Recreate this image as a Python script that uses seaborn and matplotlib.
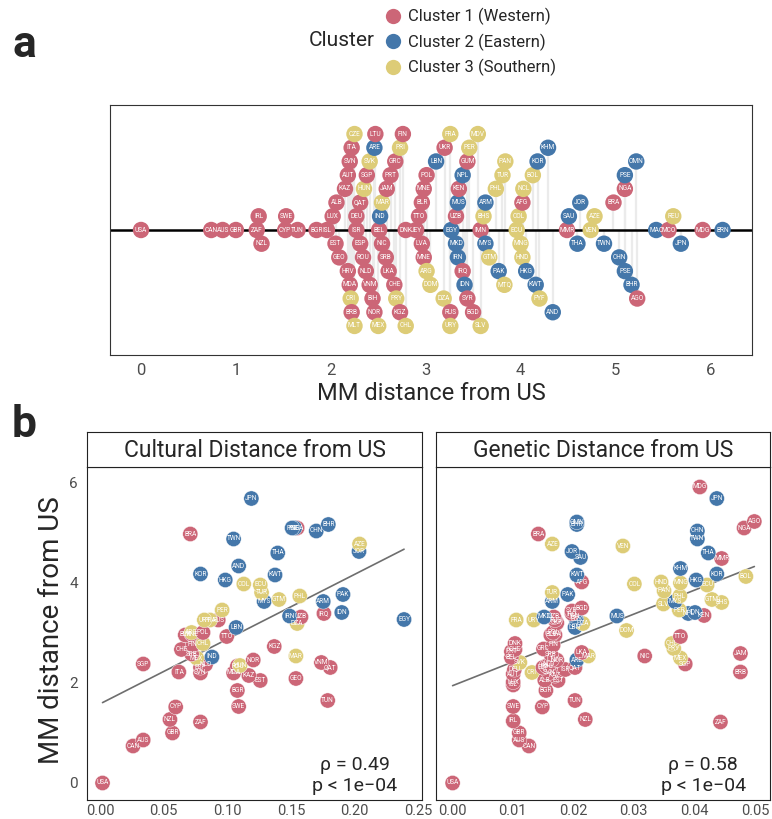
import numpy as np
import pandas as pd
import matplotlib
matplotlib.use("Agg")
import matplotlib.pyplot as plt
import seaborn as sns
from matplotlib.lines import Line2D

# ---------------- data ----------------
codes = ["USA","CAN","AUS","GBR","ZAF","IRL","NZL","CYP","SWE","TUN","BGR",
         "ISL","LUX","EST","ALB","GEO","KAZ","HRV","AUT","MDA","SVN","CRI","ITA","BRB","CZE","MLT",
         "ISR","DEU","ESP","QAT","ROU","HUN","NLD","SGP","VNM","SVK","BIH","ARE","NOR","LTU","MEX",
         "BEL","IND","NIC","MAR","SRB","JAM","LKA","PRT","CHE","GRC","PRY","PRI","KGZ","FIN","CHL",
         "DNK","JEY","TTO","LVA","BLR","MNE","MNE","ARG","POL","DOM","LBN","DZA","UKR","RUS","FRA","URY",
         "EGY","UZB","MKD","MUS","IRN","KEN","IRQ","NPL","IDN","GUM","SYR","PER","BGD","MDV","SLV",
         "IMN","BHS","MYS","ARM","GTM","PHL","PAK","TUR","MTQ","PAN",
         "ECU","COL","MNG","AFG","HND","NCL","HKG","BOL","KWT","KOR","PYF","KHM","AND",
         "MMR","SAU","THA","JOR","VEN","AZE","TWN","BRA","CHN","NGA","PSE","PSE","BHR","OMN","AGO",
         "MAC","MCO","REU","JPN","MDG","BRN"]
clusters = [1,1,1,1,1,1,1,1,1,1,1,
            1,1,1,1,1,1,1,1,1,1,3,1,1,3,3,
            1,1,1,1,1,3,1,1,1,3,1,2,1,1,3,
            1,2,1,3,1,1,1,1,1,1,3,3,1,1,3,
            1,1,1,1,1,1,1,3,1,3,2,3,1,1,3,3,
            2,1,2,2,2,1,1,2,2,1,1,3,1,3,3,
            1,3,2,2,3,3,2,3,3,3,
            3,3,3,1,3,3,2,3,2,2,3,2,2,
            1,2,2,2,3,3,2,1,2,1,2,2,2,2,1,
            2,1,3,2,1,2]
mm_distance = [0.00,0.74,0.86,1.00,1.22,1.24,1.27,1.52,1.53,1.65,1.85,
               1.96,2.02,2.05,2.06,2.09,2.15,2.18,2.18,2.20,2.20,2.21,2.22,2.22,2.25,2.25,
               2.27,2.27,2.31,2.31,2.34,2.35,2.37,2.38,2.41,2.41,2.44,2.46,2.46,2.47,2.50,
               2.51,2.52,2.54,2.54,2.58,2.59,2.61,2.63,2.67,2.68,2.69,2.73,2.73,2.76,2.79,
               2.79,2.90,2.93,2.96,2.96,2.98,2.98,3.01,3.01,3.05,3.11,3.19,3.20,3.26,3.26,3.26,
               3.27,3.32,3.32,3.34,3.34,3.35,3.39,3.39,3.41,3.44,3.44,3.46,3.50,3.55,3.58,
               3.58,3.61,3.63,3.63,3.67,3.74,3.77,3.81,3.83,3.84,
               3.96,3.98,4.00,4.02,4.02,4.03,4.06,4.13,4.16,4.18,4.20,4.29,4.34,
               4.49,4.51,4.60,4.63,4.74,4.78,4.88,4.98,5.04,5.10,5.10,5.10,5.17,5.22,5.23,
               5.43,5.56,5.61,5.69,5.92,6.13]
nan = np.nan
cultural_distance = [0.002,0.026,0.034,0.057,0.079,nan,0.055,0.0595,0.109,0.179,0.108,
                     nan,nan,0.126,nan,0.154,0.117,nan,nan,0.105,0.079,nan,0.062,nan,nan,nan,
                     nan,nan,0.079,0.181,0.108,0.110,0.083,0.034,0.174,nan,nan,nan,0.1205,nan,0.076,
                     nan,0.088,nan,0.154,0.072,nan,nan,nan,0.064,nan,nan,nan,0.137,0.073,0.081,
                     nan,nan,0.0996,nan,0.067,0.072,nan,0.072,0.081,nan,0.107,0.155,nan,0.093,0.0865,0.082,
                     0.239,0.158,nan,nan,0.149,nan,0.176,nan,0.190,nan,nan,0.096,nan,nan,nan,
                     nan,nan,0.129,0.1755,0.1407,0.157,0.191,0.127,nan,nan,
                     0.126,0.113,nan,nan,nan,nan,0.0985,nan,0.1376,0.079,nan,nan,0.109,
                     nan,nan,0.1397,0.2036,nan,0.204,0.105,0.071,0.170,0.155,0.153,0.151,0.1795,nan,nan,
                     nan,nan,nan,0.119,nan,nan]
genetic_distance = [0.0001,0.0127,0.0111,0.0111,0.0443,0.0101,0.0220,0.0149,0.0101,0.0203,0.0155,
                    0.0101,0.0101,0.0175,0.0153,nan,0.0170,nan,0.0101,nan,0.0160,0.0132,nan,0.0476,nan,nan,
                    0.0187,0.0103,0.0150,0.0203,0.0156,nan,0.0160,0.0385,nan,0.0112,nan,0.0206,0.0173,0.0165,0.0377,
                    0.0098,nan,0.0318,0.0225,0.0163,0.0476,0.0214,0.0098,0.0104,0.0151,0.0366,nan,nan,0.0167,0.0363,
                    0.0104,nan,0.0377,0.0170,0.0163,nan,nan,nan,0.0167,0.0288,0.0203,0.0216,0.0173,0.0170,0.0106,0.0135,
                    0.0205,0.0168,0.0152,0.0272,0.0203,0.0416,0.0198,0.0390,0.0401,nan,0.0198,0.0375,0.0214,nan,0.0349,
                    nan,0.0445,0.0368,0.01655,0.0429,0.0376,0.0191,0.01655,nan,0.0350,
                    0.0421,0.0301,0.0377,0.0214,0.0345,nan,0.0403,0.0485,0.0206,0.0437,nan,0.0377,nan,
                    0.0445,0.0212,0.0423,0.0198,0.0282,0.01655,0.0405,0.01425,0.0405,0.0482,nan,nan,0.0206,0.0206,0.0499,
                    nan,nan,nan,0.0437,0.0409,nan]
cluster_names = {1: "Cluster 1 (Western)", 2: "Cluster 2 (Eastern)", 3: "Cluster 3 (Southern)"}
cluster_colors = ["#CC6677", "#4477AA", "#DDCC77"]
x_ticks_a = [0, 1, 2, 3, 4, 5, 6]
x_ticks_cult = [0.00, 0.05, 0.10, 0.15, 0.20, 0.25]
x_ticks_gen = [0.00, 0.01, 0.02, 0.03, 0.04, 0.05]
y_ticks_b = [0, 2, 4, 6]
stat_cult = ("ρ = 0.49", "p < 1e\u221204")
stat_gen = ("ρ = 0.58", "p < 1e\u221204")

# ---------------- style ----------------
sns.set_style("white")
FONT = ["Roboto", "DejaVu Sans"]
plt.rcParams["font.family"] = FONT

df = pd.DataFrame({"code": codes, "cluster": clusters, "mm": mm_distance,
                   "cult": cultural_distance, "gen": genetic_distance})
df["cluster_name"] = df["cluster"].map(cluster_names)
hue_order = [cluster_names[k] for k in (1, 2, 3)]

# dot-stacking layout for panel a: stack a run of close points outward
order = np.argsort(df["mm"].values, kind="mergesort")
seq = [0] + [s * k for k in range(1, 8) for s in (1, -1)]
levels = np.zeros(len(df))
prev, idx = None, 0
for i in order:
    x = df["mm"].values[i]
    if prev is None or x - prev >= 0.105 or idx >= len(seq):
        idx = 0
    levels[i] = seq[idx]
    idx += 1
    prev = x
df["level"] = levels

W, H = 772, 819
fig = plt.figure(figsize=(W / 100, H / 100), dpi=100)

def px_axes(x0, y0, x1, y1):
    return fig.add_axes([x0 / W, 1 - y1 / H, (x1 - x0) / W, (y1 - y0) / H])

tick_gray = "#4d4d4d"

# ---------------- panel a ----------------
axA = px_axes(110, 105, 752, 355)
axA.vlines(df["mm"], 0, df["level"], color="#ebebeb", lw=1.6, zorder=0.5)
axA.axhline(0, color="black", lw=1.8, zorder=1)
sns.scatterplot(data=df, x="mm", y="level", hue="cluster_name", hue_order=hue_order,
                palette=cluster_colors, s=140, linewidth=0, legend=False, ax=axA, zorder=3)
for _, r in df.iterrows():
    axA.text(r["mm"], r["level"], r["code"], color="white", fontsize=4.7,
             ha="center", va="center", zorder=4)
axA.set_xlim(-0.327, 6.44)
axA.set_ylim(-9.12, 9.12)
axA.set_xticks(x_ticks_a)
axA.set_xticklabels([str(t) for t in x_ticks_a], color=tick_gray, fontsize=12)
axA.set_yticks([])
axA.set_ylabel("")
axA.set_xlabel("MM distance from US", fontsize=17, labelpad=3)
axA.tick_params(axis="x", length=0, pad=6)
for sp in axA.spines.values():
    sp.set_color("#333333")
    sp.set_linewidth(0.8)

# legend
handles = [Line2D([0], [0], marker="o", linestyle="", markersize=11,
                  markerfacecolor=c, markeredgewidth=0) for c in cluster_colors]
fig.legend(handles, hue_order, loc="upper left", bbox_to_anchor=(385 / W, 1 - 8 / H),
           frameon=False, fontsize=12, handlelength=1.0, handletextpad=0.38,
           labelspacing=0.5, borderpad=0, borderaxespad=0)
fig.text(342 / W, 1 - 41 / H, "Cluster", fontsize=15, ha="center", va="center")

fig.text(12 / W, 1 - 45 / H, "a", fontsize=32, fontweight="bold", ha="left", va="center")
fig.text(12 / W, 1 - 425 / H, "b", fontsize=32, fontweight="bold", ha="left", va="center")

# ---------------- panel b ----------------
def facet(x0, x1, col, xlim, xticks, title, stat, show_y):
    ax = px_axes(x0, 467, x1, 800)
    d = df.dropna(subset=[col])
    sns.regplot(data=d, x=col, y="mm", scatter=False, ci=None, color="#6e6e6e",
                line_kws={"lw": 1.2}, ax=ax, truncate=True)
    sns.scatterplot(data=d, x=col, y="mm", hue="cluster_name", hue_order=hue_order,
                    palette=cluster_colors, s=120, linewidth=0.3, edgecolor="white",
                    legend=False, ax=ax, zorder=3)
    for _, r in d.iterrows():
        ax.text(r[col], r["mm"], r["code"], color="white", fontsize=4.7,
                ha="center", va="center", zorder=4)
    ax.set_xlim(*xlim)
    ax.set_ylim(-0.34, 6.32)
    ax.set_xticks(xticks)
    ax.set_xticklabels([f"{t:.2f}" for t in xticks], color=tick_gray, fontsize=10.5)
    ax.set_yticks(y_ticks_b)
    if show_y:
        ax.set_yticklabels([str(t) for t in y_ticks_b], color=tick_gray, fontsize=11)
        ax.tick_params(axis="y", length=3, color="#333333")
    else:
        ax.set_yticklabels([])
        ax.tick_params(axis="y", length=0)
    ax.tick_params(axis="x", length=2, color="#333333", pad=1)
    ax.set_xlabel("")
    ax.set_ylabel("")
    for sp in ax.spines.values():
        sp.set_color("#222222")
        sp.set_linewidth(0.8)
    ax.text(0.80, 0.105, stat[0], transform=ax.transAxes, fontsize=14,
            ha="center", va="center")
    ax.text(0.80, 0.042, stat[1], transform=ax.transAxes, fontsize=14,
            ha="center", va="center")
    st = px_axes(x0, 432, x1, 467)
    st.set_xticks([])
    st.set_yticks([])
    for sp in st.spines.values():
        sp.set_color("#222222")
        sp.set_linewidth(0.8)
    st.text(0.5, 0.48, title, fontsize=16.5, ha="center", va="center", transform=st.transAxes)
    return ax

axL = facet(87, 422, "cult", (-0.0102, 0.2531), x_ticks_cult,
            "Cultural Distance from US", stat_cult, True)
axR = facet(436, 770, "gen", (-0.00264, 0.05248), x_ticks_gen,
            "Genetic Distance from US", stat_gen, False)
fig.text(52 / W, 1 - 630 / H, "MM distance from US", fontsize=20, rotation=90,
         ha="center", va="center")

fig.savefig("out.png", dpi=100)
